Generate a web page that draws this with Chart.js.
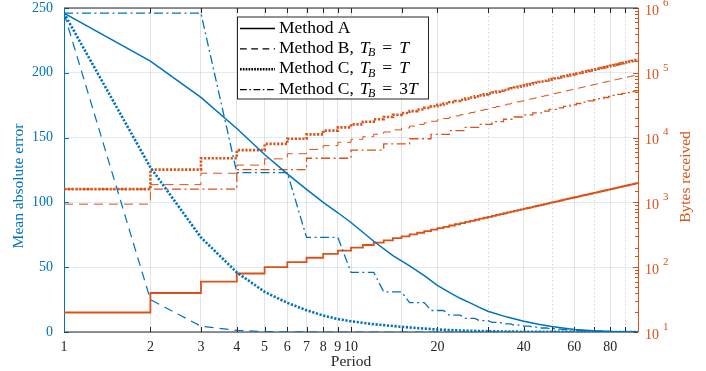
<!DOCTYPE html>
<html>
<head>
<meta charset="utf-8">
<script src="https://cdn.jsdelivr.net/npm/chart.js@4"></script>
<style>
  html, body { margin: 0; padding: 0; background: #fff; }
</style>
</head>
<body>
<canvas id="chart" width="706" height="371"></canvas>
<script>
// ---- data ----
const xTickLabels = [1, 2, 3, 4, 5, 6, 7, 8, 9, 10, 20, 40, 60, 80];
const xMinorGrid = [30, 50, 70, 90];
const bytesExponents = [1, 2, 3, 4, 5, 6];

// mean absolute error (left axis)
const periodsA = [1, 2, 3, 4, 5, 6, 7, 8, 9, 10, 12, 14, 16, 18, 20, 22, 24, 26, 28, 30, 35, 40, 45, 50, 60, 70, 80, 100];
const errorA = [246, 209, 181, 157, 137, 122, 110, 100, 92, 84.5, 70, 59, 51, 43.5, 36, 30.5, 26, 22.5, 19, 16, 11.5, 8.3, 6, 4.3, 1.9, 0.9, 0.4, 0.1];

const periodsB = [1, 2, 3, 4, 5, 6, 8, 100];
const errorB = [246, 25, 4.5, 1.2, 0.4, 0.1, 0, 0];

const periodsC = [1, 2, 3, 4, 5, 6, 7, 8, 9, 10, 12, 14, 17, 20, 25, 30, 40, 50, 100];
const errorC = [246, 127, 73, 46, 31, 22.5, 16.8, 12.7, 10, 8.3, 6, 4.6, 3, 1.9, 1, 0.6, 0.2, 0.1, 0];

const periodsC3 = [1, 3, 4, 6, 7, 9, 10, 12, 13, 15, 16, 18, 19, 21, 22, 24, 25, 27, 28, 30,
  31, 33, 34, 36, 37, 39, 40, 42, 43, 45, 46, 48, 49, 51, 52, 54, 55, 57, 58, 60,
  61, 63, 64, 66, 67, 69, 70, 72, 73, 75, 76, 78, 79, 81, 82, 84, 85, 87, 88, 90,
  91, 93, 94, 96, 97, 99, 100];
const errorC3 = [246, 246, 123, 123, 73, 73, 46, 46, 31, 31, 22.7, 22.7, 16.6, 16.6, 13, 13, 10.5, 10.5, 8.8, 8.8,
  7.4, 7.4, 6.3, 6.3, 5.3, 5.3, 4.5, 4.5, 3.7, 3.7, 3.1, 3.1, 2.6, 2.6, 2.2, 2.2, 1.9, 1.9, 1.6, 1.6,
  1.3, 1.3, 1.1, 1.1, 0.9, 0.9, 0.75, 0.75, 0.6, 0.6, 0.5, 0.5, 0.4, 0.4, 0.35, 0.35, 0.3, 0.3, 0.25, 0.25,
  0.2, 0.2, 0.15, 0.15, 0.1, 0.1, 0.1];

// bytes received (right axis), held from one period to the next
const periodsStep = [1, 2, 3, 4, 5, 6, 7, 8, 9, 10,
  11, 12, 13, 14, 15, 16, 17, 18, 19, 20,
  21, 22, 23, 24, 25, 26, 27, 28, 29, 30,
  31, 32, 33, 34, 35, 36, 37, 38, 39, 40,
  41, 42, 43, 44, 45, 46, 47, 48, 49, 50,
  51, 52, 53, 54, 55, 56, 57, 58, 59, 60,
  61, 62, 63, 64, 65, 66, 67, 68, 69, 70,
  71, 72, 73, 74, 75, 76, 77, 78, 79, 80,
  81, 82, 83, 84, 85, 86, 87, 88, 89, 90,
  91, 92, 93, 94, 95, 96, 97, 98, 99, 100];
const bytesA = [20, 40, 60, 80, 100, 120, 140, 160, 180, 200,
  220, 240, 260, 280, 300, 320, 340, 360, 380, 400,
  420, 440, 460, 480, 500, 520, 540, 560, 580, 600,
  620, 640, 660, 680, 700, 720, 740, 760, 780, 800,
  820, 840, 860, 880, 900, 920, 940, 960, 980, 1000,
  1020, 1040, 1060, 1080, 1100, 1120, 1140, 1160, 1180, 1200,
  1220, 1240, 1260, 1280, 1300, 1320, 1340, 1360, 1380, 1400,
  1420, 1440, 1460, 1480, 1500, 1520, 1540, 1560, 1580, 1600,
  1620, 1640, 1660, 1680, 1700, 1720, 1740, 1760, 1780, 1800,
  1820, 1840, 1860, 1880, 1900, 1920, 1940, 1960, 1980, 1980];
const bytesB = [940, 1880, 2820, 3760, 4700, 5640, 6580, 7520, 8460, 9400,
  10340, 11280, 12220, 13160, 14100, 15040, 15980, 16920, 17860, 18800,
  19740, 20680, 21620, 22560, 23500, 24440, 25380, 26320, 27260, 28200,
  29140, 30080, 31020, 31960, 32900, 33840, 34780, 35720, 36660, 37600,
  38540, 39480, 40420, 41360, 42300, 43240, 44180, 45120, 46060, 47000,
  47940, 48880, 49820, 50760, 51700, 52640, 53580, 54520, 55460, 56400,
  57340, 58280, 59220, 60160, 61100, 62040, 62980, 63920, 64860, 65800,
  66740, 67680, 68620, 69560, 70500, 71440, 72380, 73320, 74260, 75200,
  76140, 77080, 78020, 78960, 79900, 80840, 81780, 82720, 83660, 84600,
  85540, 86480, 87420, 88360, 89300, 90240, 91180, 92120, 93060, 93060];
const bytesC = [1600, 3200, 4800, 6400, 8000, 9600, 11200, 12800, 14400, 16000,
  17600, 19200, 20800, 22400, 24000, 25600, 27200, 28800, 30400, 32000,
  33600, 35200, 36800, 38400, 40000, 41600, 43200, 44800, 46400, 48000,
  49600, 51200, 52800, 54400, 56000, 57600, 59200, 60800, 62400, 64000,
  65600, 67200, 68800, 70400, 72000, 73600, 75200, 76800, 78400, 80000,
  81600, 83200, 84800, 86400, 88000, 89600, 91200, 92800, 94400, 96000,
  97600, 99200, 100800, 102400, 104000, 105600, 107200, 108800, 110400, 112000,
  113600, 115200, 116800, 118400, 120000, 121600, 123200, 124800, 126400, 128000,
  129600, 131200, 132800, 134400, 136000, 137600, 139200, 140800, 142400, 144000,
  145600, 147200, 148800, 150400, 152000, 153600, 155200, 156800, 158400, 158400];
const periodsStep3 = [1, 4, 7, 10, 13, 16, 19, 22, 25, 28, 31, 34, 37, 40, 43, 46, 49,
  52, 55, 58, 61, 64, 67, 70, 73, 76, 79, 82, 85, 88, 91, 94, 97, 100];
const bytesC3 = [1600, 3200, 4800, 6400, 8000, 9600, 11200, 12800, 14400, 16000, 17600, 19200,
  20800, 22400, 24000, 25600, 27200, 28800, 30400, 32000, 33600, 35200, 36800, 38400,
  40000, 41600, 43200, 44800, 46400, 48000, 49600, 51200, 52800, 52800];

// ---- styles ----
const BLUE = '#0072bd';
const ORANGE = '#d95319';
const AXIS = '#262626';
const SERIF = '"Liberation Serif", "Times New Roman", serif';

const styles = {
  solid: { dash: [], width: 1.5 },
  dashed: { dash: [9, 6], width: 1.2 },
  dotted: { dash: [2.2, 1.6], width: 2.6 },
  dashDot: { dash: [9, 3.5, 2, 3.5], width: 1.3 }
};

const legendItems = [
  { label: 'Method A', style: styles.solid, math: null },
  { label: 'Method B, ', style: styles.dashed, math: '' },
  { label: 'Method C, ', style: styles.dotted, math: '' },
  { label: 'Method C, ', style: styles.dashDot, math: '3' }
];

const pts = (xs, ys) => xs.map((x, i) => ({ x, y: ys[i] }));

function series(xs, ys, color, style, axis, stepped) {
  return {
    data: pts(xs, ys),
    borderColor: color,
    borderWidth: style.width,
    borderDash: style.dash,
    yAxisID: axis,
    stepped: stepped ? true : false,
    pointRadius: 0,
    tension: 0,
    fill: false
  };
}

function line(ctx, x1, y1, x2, y2) {
  ctx.beginPath();
  ctx.moveTo(x1, y1);
  ctx.lineTo(x2, y2);
  ctx.stroke();
}

// keep the plot box where the reference has it
function fitY(width) {
  return s => {
    s.width = width;
    s.paddingTop = 0;
    s.paddingBottom = 0;
  };
}

const decorations = {
  id: 'decorations',
  beforeDatasetsDraw(chart) {
    const { ctx, chartArea: a, scales: { x, y, y2 } } = chart;
    ctx.save();

    // dotted minor grid on x
    ctx.strokeStyle = 'rgba(38,38,38,0.2)';
    ctx.lineWidth = 1;
    ctx.setLineDash([1.5, 2.5]);
    xMinorGrid.forEach(v => {
      const px = Math.round(x.getPixelForValue(v)) + 0.5;
      line(ctx, px, a.top, px, a.bottom);
    });
    ctx.setLineDash([]);

    // inward tick marks
    ctx.strokeStyle = AXIS;
    x.ticks.forEach(t => {
      if (t.value <= 1 || t.value >= 100) return;
      const px = Math.round(x.getPixelForValue(t.value)) + 0.5;
      line(ctx, px, a.bottom, px, a.bottom - 5);
      line(ctx, px, a.top, px, a.top + 5);
    });
    ctx.strokeStyle = BLUE;
    y.ticks.forEach(t => {
      const py = Math.round(y.getPixelForValue(t.value)) + 0.5;
      line(ctx, a.left, py, a.left + 5, py);
    });
    ctx.strokeStyle = ORANGE;
    y2.ticks.forEach(t => {
      const lg = Math.log10(t.value);
      const major = Math.abs(lg - Math.round(lg)) < 1e-9;
      const py = Math.round(y2.getPixelForValue(t.value)) + 0.5;
      line(ctx, a.right, py, a.right - (major ? 5 : 3), py);
    });

    // box
    ctx.lineWidth = 1;
    ctx.strokeStyle = AXIS;
    line(ctx, a.left, a.top, a.right, a.top);
    line(ctx, a.left, a.bottom, a.right, a.bottom);
    ctx.strokeStyle = BLUE;
    line(ctx, a.left + 0.5, a.top, a.left + 0.5, a.bottom);
    ctx.strokeStyle = ORANGE;
    line(ctx, a.right + 0.5, a.top, a.right + 0.5, a.bottom);
    ctx.restore();
  },
  afterDraw(chart) {
    const { ctx, chartArea: a, scales: { y2 } } = chart;
    ctx.save();

    // right axis labels 10^n
    ctx.fillStyle = ORANGE;
    ctx.textAlign = 'left';
    ctx.textBaseline = 'middle';
    bytesExponents.forEach(e => {
      const py = y2.getPixelForValue(Math.pow(10, e));
      ctx.font = `14px ${SERIF}`;
      ctx.fillText('10', a.right + 7, py + 3);
      const w = ctx.measureText('10').width;
      ctx.font = `11px ${SERIF}`;
      ctx.fillText(String(e), a.right + 7 + w + 4, py - 5);
    });

    // axis titles
    ctx.textAlign = 'center';
    ctx.font = `15.5px ${SERIF}`;
    ctx.fillStyle = BLUE;
    ctx.save();
    ctx.translate(19, 186);
    ctx.rotate(-Math.PI / 2);
    ctx.fillText('Mean absolute error', 0, 0);
    ctx.restore();
    ctx.fillStyle = ORANGE;
    ctx.save();
    ctx.translate(686, 177);
    ctx.rotate(-Math.PI / 2);
    ctx.fillText('Bytes received', 0, 0);
    ctx.restore();

    // legend
    const lx = a.left + 173, ly = a.top + 8.5, lw = 191, lh = 82;
    ctx.fillStyle = '#fff';
    ctx.fillRect(lx, ly, lw, lh);
    ctx.strokeStyle = AXIS;
    ctx.lineWidth = 1;
    ctx.strokeRect(lx + 0.5, ly + 0.5, lw, lh);
    ctx.textAlign = 'left';
    ctx.textBaseline = 'alphabetic';
    ctx.fillStyle = '#000';
    legendItems.forEach((item, i) => {
      const base = ly + 16 + i * 20.4;
      ctx.strokeStyle = '#000';
      ctx.lineWidth = item.style.width;
      ctx.setLineDash(item.style.dash.map(d => d * 0.75));
      line(ctx, lx + 3, base - 4, lx + 38, base - 4);
      ctx.setLineDash([]);

      let tx = lx + 42;
      ctx.font = `17.5px ${SERIF}`;
      ctx.fillText(item.label, tx, base);
      tx += ctx.measureText(item.label).width + 1.5;
      if (item.math === null) return;
      ctx.font = `italic 17.5px ${SERIF}`;
      ctx.fillText('T', tx, base);
      tx += ctx.measureText('T').width;
      ctx.font = `italic 12px ${SERIF}`;
      ctx.fillText('B', tx - 1.5, base + 3.5);
      tx += ctx.measureText('B').width - 1.5 + 7;
      ctx.font = `17.5px ${SERIF}`;
      ctx.fillText('=', tx, base);
      tx += ctx.measureText('=').width + 7;
      if (item.math) {
        ctx.fillText(item.math, tx, base);
        tx += ctx.measureText(item.math).width;
      }
      ctx.font = `italic 17.5px ${SERIF}`;
      ctx.fillText('T', tx, base);
    });
    ctx.restore();
  }
};

Chart.defaults.font.family = SERIF;

new Chart(document.getElementById('chart'), {
  type: 'line',
  data: {
    datasets: [
      series(periodsA, errorA, BLUE, styles.solid, 'y'),
      series(periodsB, errorB, BLUE, styles.dashed, 'y'),
      series(periodsC, errorC, BLUE, styles.dotted, 'y'),
      series(periodsC3, errorC3, BLUE, styles.dashDot, 'y'),
      series(periodsStep, bytesA, ORANGE, { dash: [], width: 1.8 }, 'y2', true),
      series(periodsStep, bytesB, ORANGE, { dash: [9, 6], width: 1 }, 'y2', true),
      series(periodsStep, bytesC, ORANGE, styles.dotted, 'y2', true),
      series(periodsStep3, bytesC3, ORANGE, styles.dashDot, 'y2', true)
    ]
  },
  options: {
    responsive: false,
    animation: false,
    layout: { padding: { top: 8, left: 0, right: 0, bottom: 0 } },
    plugins: { legend: { display: false }, tooltip: { enabled: false } },
    scales: {
      x: {
        type: 'logarithmic',
        min: 1,
        max: 100,
        afterFit: s => {
          s.height = 39;
          s.paddingLeft = 0;
          s.paddingRight = 0;
        },
        border: { display: false },
        grid: {
          drawTicks: false,
          color: c => (c.tick && xMinorGrid.includes(c.tick.value)) ? 'rgba(0,0,0,0)' : 'rgba(38,38,38,0.13)'
        },
        ticks: {
          autoSkip: false,
          maxRotation: 0,
          padding: 7,
          color: AXIS,
          font: { size: 14 },
          callback: v => xTickLabels.includes(v) ? String(v) : ''
        },
        title: {
          display: true,
          text: 'Period',
          color: AXIS,
          font: { size: 15.5 },
          padding: { top: 0, bottom: 0 }
        }
      },
      y: {
        type: 'linear',
        position: 'left',
        min: 0,
        max: 250,
        afterFit: fitY(64),
        border: { display: false },
        grid: { drawTicks: false, color: 'rgba(0,114,189,0.13)' },
        ticks: { stepSize: 50, padding: 11, color: BLUE, font: { size: 14 } }
      },
      y2: {
        type: 'logarithmic',
        position: 'right',
        min: 10,
        max: 1000000,
        afterFit: fitY(68),
        border: { display: false },
        grid: { drawOnChartArea: false, drawTicks: false },
        ticks: { display: false }
      }
    }
  },
  plugins: [decorations]
});
</script>
</body>
</html>
